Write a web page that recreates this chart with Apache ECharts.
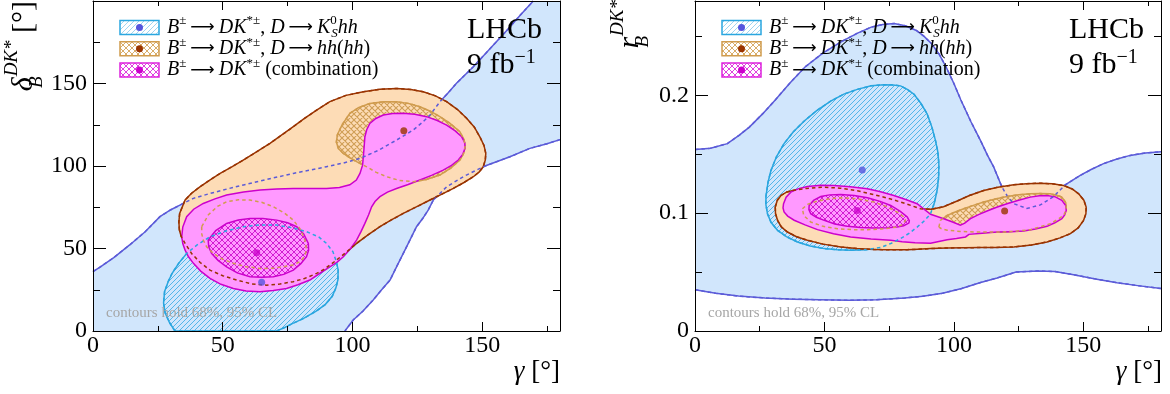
<!DOCTYPE html>
<html lang="en">
<head>
<meta charset="UTF-8" />
<title>LHCb B → DK* contours: gamma vs delta_B and r_B</title>
<script src="https://cdn.jsdelivr.net/npm/echarts@6.0.0/dist/echarts.min.js"></script>
<style>
    html, body { margin: 0; padding: 0; background: #ffffff; }
    #main { width: 1170px; height: 394px; }
</style>
</head>
<body>
<div id="main"></div>
<script type="text/javascript">
    // ---- axis ranges / ticks ----
    var gammaRange = [0, 180];
    var deltaRange = [0, 200];
    var rRange = [0, 0.28];
    var gammaStep = [50, 25];      // major, minor
    var deltaStep = [50, 25];
    var rStep = [0.1, 0.05];

    // ---- left panel: gamma [deg] vs delta_B [deg] ----
    // K_S hh, 95% band: upper and lower edges (the rest of the band is the frame)
    var leftKsBandUpper = [[0, 36], [3, 39], [8, 44.5], [14, 52], [20, 60], [25.8, 69.3], [30, 73.5], [33.5, 76.3], [38.7, 80.4], [45, 83.3], [51.5, 86], [58, 88.5], [64.4, 90.9], [71, 93.3], [77.2, 95.5], [84, 97.6], [90, 99.6], [96.5, 101.8], [102.9, 104.6], [110, 109.5], [117, 115.7], [123.4, 121.8], [127, 126.5], [129.9, 130.9], [133.7, 138.9], [137, 144.5], [140.1, 150.1], [146.6, 160.2], [153, 171], [160, 183], [165, 192], [169.7, 200]];
    var leftKsBandLower = [[180, 116], [175, 113.5], [168.4, 110.7], [160.7, 105.6], [151.1, 100], [146.5, 96.5], [142.7, 93.5], [136.3, 87.4], [131.2, 79.4], [129.2, 73.3], [127, 68], [124.7, 63.2], [120.9, 51.1], [117, 38.9], [114.5, 30.9], [111, 24.5], [108, 18.8], [104, 12], [100.3, 6.7], [97.1, 0]];
    var leftKsBandCorners = [[180, 200], [0, 0]];
    // K_S hh, 68%
    var leftKs68 = [[31.6, 0], [29.5, 5], [27.8, 11], [27.2, 17], [27.6, 24], [29, 30], [30.5, 35], [33, 41], [36.1, 47], [40, 52], [45.1, 57.1], [51, 60.5], [57.9, 63.2], [64, 64.3], [70.8, 64.2], [77, 62.5], [82.3, 60.2], [87, 57], [90, 53.1], [92.5, 48], [93.8, 42], [94.5, 37], [94.4, 31], [93.6, 26], [92.2, 21], [89.5, 16], [86, 12], [81, 7.5], [77, 4.6], [74, 2.2], [70.8, 0]];
    // hh(hh), 95%
    var leftHh95 = [[33.3, 61.2], [33.1, 66], [33.4, 71.3], [35.5, 79.4], [38, 83.5], [41.2, 87.4], [45, 91.5], [49, 95.5], [53.5, 99.5], [57.9, 103.6], [63, 108.5], [68.2, 113.7], [72.5, 118.5], [77.2, 123.8], [81.5, 128.8], [86.2, 133.9], [91.3, 139], [97.5, 142.8], [104.2, 145], [110.5, 146.5], [117, 147], [122.5, 146.4], [127.3, 145], [132, 142.5], [136.3, 139], [140.5, 134.2], [144, 128.9], [147, 123.5], [149.1, 117.7], [150.7, 112.5], [151.4, 107.6], [151.2, 103.5], [150.4, 99.5], [148.8, 96.3], [146.6, 93.5], [143, 90], [138.9, 86.4], [134.5, 83], [129.9, 79.4], [125, 75.5], [119.6, 71.3], [115, 67.3], [110.6, 63.2], [106, 58.3], [101.6, 53.1], [97.8, 48], [93.9, 43], [91.3, 40], [89, 37.3], [86.2, 34.9], [81.5, 31.8], [77.2, 29.9], [72, 28.5], [66.9, 27.8], [61, 28.6], [55.4, 30.9], [50, 33.5], [45.1, 36.9], [41.3, 41.5], [38, 47], [35.5, 53.1], [34, 57.3]];
    // hh(hh), 68%: two islands
    var leftHh68Upper = [[96.5, 107.6], [94.6, 110.5], [93.8, 114.5], [94.2, 119], [96, 125], [99, 131.9], [102.5, 135.5], [106.7, 137.9], [112, 138.9], [117, 138.9], [122, 137.8], [126, 135.9], [130, 133.2], [133.7, 129.9], [137.5, 126], [141.4, 120.8], [143, 116], [143.4, 111.7], [142.8, 107.5], [141.4, 103.6], [138, 98.8], [133.7, 94.5], [128.5, 91.8], [123.4, 90.5], [118, 91.3], [113.2, 93.5], [109, 96.3], [105.5, 99.5], [101.6, 102.6], [99, 105]];
    var leftHh68Lower = [[41.9, 63.2], [44.5, 70.5], [48, 75.5], [51.5, 78.3], [56, 79.5], [60.5, 79.4], [65, 78], [69.5, 75.3], [73.8, 71.5], [77.2, 67.2], [80, 61.5], [81.7, 55.1], [82.3, 49], [81.5, 45], [79.8, 42], [77, 40], [73.3, 38.9], [69, 38], [64.4, 37.9], [59, 39], [54.1, 41], [50, 43.5], [46.4, 47], [43.8, 51], [42.5, 55.1], [41.9, 59]];
    // combination, 95% and 68%
    var leftComb95 = [[34.2, 57.1], [34.6, 63], [36.1, 69.3], [38.8, 73.8], [42.5, 77.3], [47, 80.1], [51.5, 82.4], [58, 84.2], [64.4, 85.4], [70.8, 86.1], [77.2, 86.4], [84, 86.4], [90, 86.4], [95, 87], [99, 88.6], [101.5, 91.5], [102.9, 95.5], [103.9, 100.5], [104.2, 105.6], [104.5, 111.5], [104.8, 117.7], [105.5, 122], [106.7, 125.8], [109, 128.8], [111.9, 130.9], [115.5, 131.8], [119.6, 131.9], [124, 131.3], [128.6, 129.9], [132.7, 127.6], [136.3, 124.8], [139.6, 121.3], [142.1, 117.7], [143.3, 114.2], [143.4, 110.7], [142.5, 107], [140.8, 103.6], [138.2, 100.4], [135, 97.5], [130.5, 94.3], [126, 91.5], [121.5, 88.8], [117, 86.4], [113.5, 84.2], [110.6, 81.4], [108.7, 78.5], [107.4, 75.3], [106.2, 70.3], [104.8, 65.2], [103.3, 60.2], [101.6, 55.1], [99.3, 50], [96.5, 45], [94, 41.6], [91.3, 38.9], [87.5, 35], [83.6, 30.9], [79, 28], [74.6, 25.8], [69.5, 24.5], [64.4, 23.8], [59, 24.3], [54.1, 25.8], [49.3, 28.3], [45.1, 31.9], [41.5, 36.3], [38.7, 41], [36.8, 45], [35.5, 49], [34.6, 53]];
    var leftComb68 = [[44.4, 55.1], [47.3, 60.8], [51.5, 65.2], [56, 67.3], [60.5, 68.2], [65.5, 68.2], [70.8, 67.2], [75, 65.6], [78.5, 63.2], [81.2, 58.8], [83, 53.1], [83.1, 49], [82.3, 45], [80.1, 40.8], [77.2, 36.9], [73.5, 34.3], [69.5, 32.9], [65, 32.6], [60.5, 32.9], [55.6, 35.2], [51.5, 38.9], [48.2, 42.8], [45.7, 47], [44.6, 51]];
    // best-fit points: K_S hh, hh(hh), combination
    var leftBest = [[65, 29.5], [119.8, 121.4], [63.1, 47.4]];

    // ---- right panel: gamma [deg] vs r_B ----
    var rightKsBandUpper = [[0, 0.154], [6, 0.155], [12.5, 0.159], [17, 0.166], [21, 0.173], [26, 0.184], [31, 0.196], [36.5, 0.21], [42.5, 0.224], [49.5, 0.236], [56.9, 0.246], [63, 0.253], [68.3, 0.258], [72.5, 0.26], [76.9, 0.261], [81.2, 0.259], [85.5, 0.255], [88.5, 0.25], [91.3, 0.244], [94.3, 0.235], [97, 0.224], [100, 0.21], [102.7, 0.196], [106.5, 0.178], [110.3, 0.1615], [113, 0.149], [115.4, 0.139], [118.6, 0.122], [120.5, 0.115], [123.1, 0.108], [128.2, 0.104], [133.4, 0.107], [138.5, 0.114], [143, 0.124], [148.8, 0.132], [153, 0.137], [157.8, 0.142], [163, 0.146], [168.1, 0.149], [174, 0.151], [180, 0.152]];
    var rightKsBandLower = [[180, 0.036], [171, 0.0385], [163, 0.041], [155.2, 0.044], [145.7, 0.048], [139, 0.0505], [132.5, 0.051], [124, 0.05], [116.7, 0.045], [110, 0.041], [103, 0.036], [95.6, 0.032], [88, 0.0295], [81, 0.028], [70, 0.0265], [59.7, 0.026], [48, 0.0265], [38, 0.027], [27, 0.028], [16.8, 0.0296], [8, 0.032], [0, 0.035]];
    var rightKs68 = [[27.4, 0.114], [28.2, 0.126], [29.3, 0.136], [31.5, 0.148], [34.4, 0.159], [38, 0.169], [42.1, 0.178], [47, 0.187], [52.4, 0.195], [57.5, 0.201], [62.7, 0.205], [68, 0.208], [73, 0.209], [76.5, 0.2088], [79.4, 0.208], [82, 0.205], [84.6, 0.2009], [87.3, 0.193], [89.7, 0.184], [91.5, 0.173], [92.9, 0.1615], [93.8, 0.152], [94.2, 0.1418], [94.1, 0.13], [93.5, 0.1192], [92.5, 0.109], [91, 0.0995], [88.6, 0.0935], [85.8, 0.0882], [82.8, 0.083], [79.4, 0.0784], [75.6, 0.0742], [71.7, 0.0708], [66, 0.069], [60.1, 0.0685], [55, 0.069], [49.9, 0.0699], [44.5, 0.0722], [39.6, 0.0755], [35.3, 0.08], [31.9, 0.0854], [29.4, 0.092], [28, 0.0995], [27.4, 0.107]];
    var rightHh95 = [[31, 0.1051], [31.8, 0.111], [33.2, 0.115], [35.5, 0.118], [38.3, 0.1195], [43, 0.121], [49.9, 0.122], [56, 0.1212], [62.7, 0.119], [69, 0.1158], [75.6, 0.112], [81.5, 0.108], [87.1, 0.1037], [91.3, 0.1033], [96, 0.1055], [101.5, 0.1105], [106, 0.115], [111.5, 0.1192], [117, 0.122], [123.1, 0.124], [128, 0.125], [133.4, 0.1254], [138, 0.1249], [142.4, 0.1235], [145.7, 0.1205], [148.2, 0.1164], [150.2, 0.111], [151.1, 0.1051], [151, 0.0995], [150.1, 0.0939], [148, 0.0875], [145, 0.0826], [141, 0.079], [136, 0.0756], [130, 0.073], [123.1, 0.0713], [116, 0.0709], [110.3, 0.0708], [104, 0.0706], [97.4, 0.0705], [91, 0.0699], [86, 0.0693], [82, 0.069], [75, 0.069], [69.1, 0.0691], [62.5, 0.07], [56.3, 0.0713], [49.5, 0.0737], [43.4, 0.077], [39.2, 0.08], [35.7, 0.084], [33.3, 0.0885], [31.9, 0.0939], [31.1, 0.0995]];
    var rightHh68Left = [[41.5, 0.1037], [43.5, 0.1075], [47.3, 0.1102], [51.5, 0.112], [56.3, 0.113], [62.5, 0.1122], [69.1, 0.1094], [74, 0.1055], [78.1, 0.1009], [80.5, 0.097], [81.3, 0.0939], [80.3, 0.0905], [78.1, 0.0882], [72, 0.0865], [66.6, 0.086], [60.5, 0.086], [55, 0.0868], [49.5, 0.0888], [44.7, 0.0925], [42, 0.098]];
    var rightHh68Right = [[94.2, 0.0882], [94.8, 0.0939], [97.4, 0.0981], [100.5, 0.101], [103.8, 0.1037], [107.5, 0.1066], [111.5, 0.1094], [116, 0.112], [120.5, 0.1142], [125, 0.1156], [129.5, 0.1164], [133.5, 0.1166], [137.2, 0.1164], [139.8, 0.1152], [141.7, 0.1136], [143.2, 0.109], [143.4, 0.1051], [143.1, 0.1015], [142.4, 0.098], [140, 0.0945], [137.2, 0.091], [133.5, 0.0885], [129.5, 0.086], [124.5, 0.0848], [119.2, 0.084], [113.5, 0.084], [107.7, 0.084], [102.5, 0.0845], [97.4, 0.0855], [95.2, 0.0868]];
    var rightComb95 = [[34.2, 0.108], [35.2, 0.1135], [37, 0.1178], [40, 0.1208], [43.4, 0.1226], [48.5, 0.1236], [53.7, 0.1234], [60, 0.1224], [66.6, 0.1206], [71.7, 0.1182], [76.8, 0.115], [81.4, 0.1116], [85.8, 0.108], [91, 0.099], [96.1, 0.0953], [99.5, 0.0925], [102.5, 0.0897], [104.2, 0.0915], [106.4, 0.0953], [109.5, 0.0988], [112.8, 0.1018], [116.5, 0.105], [120.5, 0.108], [125, 0.111], [129.5, 0.1136], [133, 0.1148], [136, 0.115], [139.2, 0.1138], [141.7, 0.1108], [143.2, 0.1065], [143.4, 0.1023], [142.8, 0.0985], [141.7, 0.0953], [139, 0.0918], [136, 0.0888], [131.5, 0.0865], [127, 0.0848], [122, 0.0843], [116.7, 0.084], [111, 0.083], [105.8, 0.082], [104.5, 0.0798], [101, 0.0785], [97.4, 0.0775], [91, 0.0745], [85, 0.0748], [80, 0.0758], [75.6, 0.077], [68, 0.078], [60.1, 0.0798], [53.5, 0.0825], [47.3, 0.086], [42.5, 0.09], [38.3, 0.094], [35.8, 0.0975], [34.4, 0.101], [34, 0.1045]];
    var rightComb68 = [[44.1, 0.1065], [45.8, 0.1108], [48.6, 0.1141], [52, 0.1155], [56.3, 0.1158], [61.5, 0.115], [66.6, 0.113], [71.5, 0.11], [75.6, 0.1065], [79.3, 0.1015], [82, 0.0967], [82.8, 0.0935], [82.6, 0.0916], [80.6, 0.0893], [78.1, 0.0882], [74, 0.0876], [69.1, 0.0874], [64, 0.0878], [58.8, 0.0888], [54, 0.0908], [49.9, 0.0939], [46.9, 0.0965], [44.7, 0.0995], [44, 0.103]];
    var rightBest = [[64.6, 0.1367], [119.6, 0.1018], [62.7, 0.1023]];

    // ---- texts ----
    var legendLabels = [
        '{i|B}{p|±}{a|⟶}{i|DK}{p|*±}{r|, }{i|D}{a|⟶}{i|K}{z|0}{s|S}{i|hh}',
        '{i|B}{p|±}{a|⟶}{i|DK}{p|*±}{r|, }{i|D}{a|⟶}{i|hh}{r|(}{i|hh}{r|)}',
        '{i|B}{p|±}{a|⟶}{i|DK}{p|*±}{r| (combination)}'
    ];
    var clNote = 'contours hold 68%, 95% CL';

    var FONT = 'Liberation Serif';
    var cKsBand = '#d1e6fc', cKsBandLine = '#5b5bd8', cKs68 = '#2aa6df';
    var cHh95 = '#fddcb6', cHh95Line = '#993300', cHh68 = '#d09c4e';
    var cComb95 = '#ff99ff', cComb68 = '#cc00cc';
    var bestColors = ['#5555dd', '#993300', '#cc00cc'];

    // hatch tiles used as fill patterns
    function hatch(color, size, width, cross, bg) {
        var c = document.createElement('canvas');
        c.width = size; c.height = size;
        var g = c.getContext('2d');
        if (bg) { g.fillStyle = bg; g.fillRect(0, 0, size, size); }
        g.strokeStyle = color; g.lineWidth = width;
        g.beginPath();
        g.moveTo(-1, size + 1); g.lineTo(size + 1, -1);
        g.moveTo(-1, 1); g.lineTo(1, -1);
        g.moveTo(size - 1, size + 1); g.lineTo(size + 1, size - 1);
        if (cross) {
            g.moveTo(-1, -1); g.lineTo(size + 1, size + 1);
            g.moveTo(size - 1, -1); g.lineTo(size + 1, 1);
            g.moveTo(-1, size - 1); g.lineTo(1, size + 1);
        }
        g.stroke();
        return { image: c, repeat: 'repeat' };
    }
    var patKs = hatch('#45b0e6', 5, 0.9, false);
    var patHh = hatch('#cf9d55', 6, 1.1, true);
    var patComb = hatch('#d21ed2', 6, 1, true);
    var legPatterns = [hatch('#9fd4f2', 5, 1, false, '#fff'), hatch('#d9ad6a', 6, 1, true, '#fff'), hatch('#e040e0', 6, 1, true, '#fff')];
    var legStrokes = [cKs68, cHh68, '#dd22dd'];

    // one polygon / polyline per custom series, built through the axis scales
    function shape(g, pts, kind, style, z) {
        return {
            type: 'custom', coordinateSystem: 'cartesian2d',
            xAxisIndex: g * 4, yAxisIndex: g * 4,
            data: pts, z: z, silent: true, animation: false,
            renderItem: function (params, api) {
                if (params.dataIndex !== 0) return null;
                var p = pts.map(function (d) { return api.coord(d); });
                var type = kind;
                if (kind === 'ring') { p.push(p[0]); type = 'polyline'; }
                return { type: type, shape: { points: p }, style: style };
            }
        };
    }
    function solid(color) { return { fill: 'none', stroke: color, lineWidth: 1.5 }; }
    function dashed(color) { return { fill: 'none', stroke: color, lineWidth: 1.5, lineDash: [3.5, 3] }; }

    function panelSeries(g, d) {
        var s = [];
        s.push(shape(g, d.band, 'polygon', { fill: cKsBand }, 2));
        s.push(shape(g, d.bandUp, 'polyline', solid(cKsBandLine), 3));
        s.push(shape(g, d.bandLo, 'polyline', solid(cKsBandLine), 3));
        s.push(shape(g, d.ks68, 'polygon', { fill: patKs, stroke: cKs68, lineWidth: 1.5 }, 4));
        s.push(shape(g, d.hh95, 'polygon', { fill: cHh95, stroke: cHh95Line, lineWidth: 1.5 }, 5));
        d.hh68.forEach(function (pts) {
            s.push(shape(g, pts, 'polygon', { fill: patHh, stroke: cHh68, lineWidth: 1.5 }, 6));
        });
        s.push(shape(g, d.comb95, 'polygon', { fill: cComb95, stroke: cComb68, lineWidth: 1.5 }, 7));
        s.push(shape(g, d.comb68, 'polygon', { fill: patComb, stroke: cComb68, lineWidth: 1.5 }, 8));
        // covered contour edges drawn dashed on top
        s.push(shape(g, d.bandUp, 'polyline', dashed(cKsBandLine), 9));
        s.push(shape(g, d.bandLo, 'polyline', dashed(cKsBandLine), 9));
        s.push(shape(g, d.ks68, 'ring', dashed(cKs68), 9));
        s.push(shape(g, d.hh95, 'ring', dashed(cHh95Line), 9));
        d.hh68.forEach(function (pts) { s.push(shape(g, pts, 'ring', dashed(cHh68), 9)); });
        s.push({
            type: 'scatter', xAxisIndex: g * 4, yAxisIndex: g * 4, z: 10, silent: true, animation: false,
            symbolSize: 7,
            data: d.best.map(function (p, i) { return { value: p, itemStyle: { color: bestColors[i] } }; })
        });
        return s;
    }

    function axis(g, pos, range, step, len, withLine, withLabel) {
        return {
            gridIndex: g, type: 'value', position: pos, min: range[0], max: range[1], interval: step,
            z: 30, silent: true,
            axisLine: { show: withLine, onZero: false, lineStyle: { color: '#000', width: 1 } },
            axisTick: { show: true, inside: true, length: len, lineStyle: { color: '#000', width: 1 } },
            axisLabel: {
                show: withLabel, color: '#000', fontFamily: FONT, fontSize: 24, fontWeight: 'normal',
                margin: pos === 'bottom' ? 3 : 6, showMaxLabel: false
            },
            splitLine: { show: false }
        };
    }
    function xAxes(g) {
        return [axis(g, 'bottom', gammaRange, gammaStep[0], 9, true, true), axis(g, 'bottom', gammaRange, gammaStep[1], 5, false, false),
                axis(g, 'top', gammaRange, gammaStep[0], 9, true, false), axis(g, 'top', gammaRange, gammaStep[1], 5, false, false)];
    }
    function yAxes(g, range, step) {
        return [axis(g, 'left', range, step[0], 13, true, true), axis(g, 'left', range, step[1], 7, false, false),
                axis(g, 'right', range, step[0], 13, true, false), axis(g, 'right', range, step[1], 7, false, false)];
    }

    var legendRich = {
        i: { fontFamily: FONT, fontStyle: 'italic', fontSize: 20, lineHeight: 26 },
        r: { fontFamily: FONT, fontSize: 20, lineHeight: 26 },
        a: { fontFamily: 'DejaVu Sans', fontSize: 17, lineHeight: 26, padding: [0, 4, 0, 4] },
        p: { fontFamily: FONT, fontSize: 13, lineHeight: 14, verticalAlign: 'top' },
        z: { fontFamily: FONT, fontSize: 13, lineHeight: 14, verticalAlign: 'top', width: 1 },
        s: { fontFamily: FONT, fontStyle: 'italic', fontSize: 13, lineHeight: 12, verticalAlign: 'bottom' }
    };
    var titleRich = {
        m: { fontFamily: FONT, fontStyle: 'italic', fontSize: 30, lineHeight: 44 },
        n: { fontFamily: FONT, fontSize: 30, lineHeight: 44 },
        b: { fontFamily: FONT, fontStyle: 'italic', fontSize: 19, lineHeight: 19, verticalAlign: 'bottom', width: 1 },
        s: { fontFamily: FONT, fontStyle: 'italic', fontSize: 19, lineHeight: 33, verticalAlign: 'top' }
    };
    var lhcbRich = {
        a: { fontFamily: FONT, fontSize: 30, lineHeight: 35 },
        u: { fontFamily: FONT, fontSize: 20, lineHeight: 12, verticalAlign: 'top' }
    };

    function panelGraphics(ox) {
        var out = [];
        legendLabels.forEach(function (label, i) {
            var y0 = 20.5 + i * 21.3;
            out.push({ type: 'rect', z: 40, shape: { x: ox + 120, y: y0, width: 39, height: 14 }, style: { fill: legPatterns[i], stroke: legStrokes[i], lineWidth: 1.5 } });
            out.push({ type: 'circle', z: 41, shape: { cx: ox + 139.5, cy: y0 + 7, r: 3.5 }, style: { fill: bestColors[i] } });
            out.push({ type: 'text', z: 41, x: ox + 167, y: y0 + 7, style: { text: label, rich: legendRich, fill: '#000', align: 'left', verticalAlign: 'middle' } });
        });
        out.push({ type: 'text', z: 41, x: ox + 467, y: 12.5, style: { text: '{a|LHCb}\n{a|9 fb}{u|−1}', rich: lhcbRich, fill: '#000', align: 'left', verticalAlign: 'top' } });
        out.push({ type: 'text', z: 41, x: ox + 106, y: 313, style: { text: clNote, font: '15px ' + FONT, fill: '#a6a6a6', align: 'left', verticalAlign: 'middle' } });
        out.push({ type: 'text', z: 41, x: ox + 560, y: 372, style: { text: '{m|γ}{n| [°]}', rich: { m: { fontFamily: FONT, fontStyle: 'italic', fontSize: 27 }, n: { fontFamily: FONT, fontSize: 27 } }, fill: '#000', align: 'right', verticalAlign: 'middle' } });
        return out;
    }

    var myChart = echarts.init(document.getElementById('main'), null, { renderer: 'canvas' });
    var graphics = panelGraphics(0).concat(panelGraphics(602));
    graphics.push({ type: 'text', z: 41, x: 24, y: 1, rotation: Math.PI / 2, style: { text: '{m|δ}{b|B}{s|DK*}{n| [°]}', rich: titleRich, fill: '#000', align: 'right', verticalAlign: 'middle' } });
    graphics.push({ type: 'text', z: 41, x: 630, y: 0, rotation: Math.PI / 2, style: { text: '{m|r}{b|B}{s|DK*}', rich: titleRich, fill: '#000', align: 'right', verticalAlign: 'middle' } });

    var option = {
        animation: false,
        textStyle: { fontFamily: FONT },
        grid: [
            { left: 93, top: 1, width: 467, height: 330 },
            { left: 695, top: 1, width: 466, height: 330 }
        ],
        xAxis: xAxes(0).concat(xAxes(1)),
        yAxis: yAxes(0, deltaRange, deltaStep).concat(yAxes(1, rRange, rStep)),
        graphic: { elements: graphics },
        series: panelSeries(0, {
            band: leftKsBandUpper.concat([leftKsBandCorners[0]], leftKsBandLower, [leftKsBandCorners[1]]),
            bandUp: leftKsBandUpper, bandLo: leftKsBandLower,
            ks68: leftKs68, hh95: leftHh95, hh68: [leftHh68Upper, leftHh68Lower],
            comb95: leftComb95, comb68: leftComb68, best: leftBest
        }).concat(panelSeries(1, {
            band: rightKsBandUpper.concat(rightKsBandLower),
            bandUp: rightKsBandUpper, bandLo: rightKsBandLower,
            ks68: rightKs68, hh95: rightHh95, hh68: [rightHh68Left, rightHh68Right],
            comb95: rightComb95, comb68: rightComb68, best: rightBest
        }))
    };
    option && myChart.setOption(option);
</script>
</body>
</html>
